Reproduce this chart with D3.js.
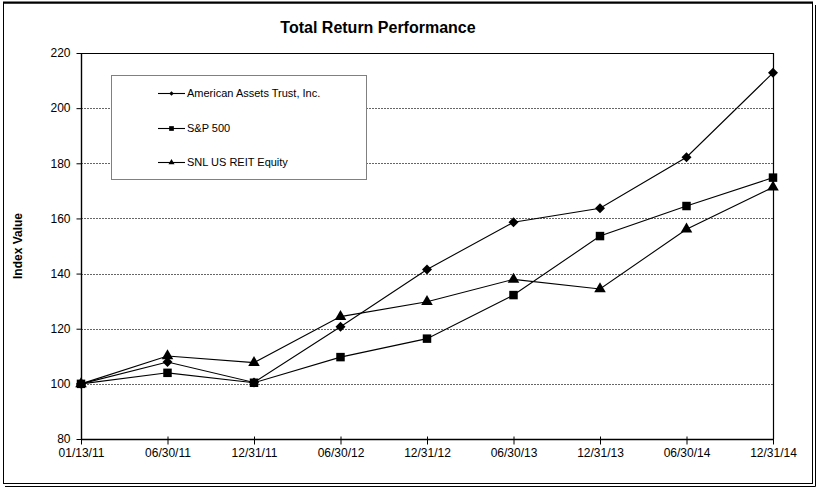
<!DOCTYPE html>
<html>
<head>
<meta charset="utf-8">
<script src="https://cdn.jsdelivr.net/npm/d3@7"></script>
<style>
  html, body { margin: 0; padding: 0; background: #fff; }
  svg { display: block; font-family: "Liberation Sans", Arial, sans-serif; }
</style>
</head>
<body>
<svg id="chart" width="819" height="488"></svg>
<script>
const dates = ["01/13/11","06/30/11","12/31/11","06/30/12","12/31/12","06/30/13","12/31/13","06/30/14","12/31/14"];
const aat   = [100, 107.9, 100.5, 120.7, 141.5, 158.6, 163.7, 182.2, 212.8];
const sp500 = [100, 104.0, 100.4, 109.7, 116.4, 132.2, 153.6, 164.5, 174.8];
const reit  = [100, 110.1, 107.7, 124.4, 129.8, 137.9, 134.4, 156.1, 171.3];
const seriesNames = ["American Assets Trust, Inc.", "S&P 500", "SNL US REIT Equity"];
const yTicks = [80, 100, 120, 140, 160, 180, 200, 220];

const series = [
  {name: seriesNames[0], values: aat, symbol: d3.symbolSquare, size: 50, rot: 45, legSize: 10},
  {name: seriesNames[1], values: sp500, symbol: d3.symbolSquare, size: 72, rot: 0, legSize: 22},
  {name: seriesNames[2], values: reit, symbol: d3.symbolTriangle, size: 58, rot: 0, legSize: 16}
];

const svg = d3.select("#chart");
const m = {left: 81, right: 773, top: 53, bottom: 439};

// frame with shadow
svg.append("path").attr("d", `M815.5,5 V486.5 H5`).attr("fill","none").attr("stroke","#000").attr("stroke-width",1);
svg.append("rect").attr("x",3.5).attr("y",3).attr("width",809).attr("height",480.5)
  .attr("fill","#fff").attr("stroke","#000").attr("stroke-width",1);
svg.append("line").attr("x1",3).attr("x2",813).attr("y1",2.5).attr("y2",2.5).attr("stroke","#000").attr("stroke-width",2);

const x = d3.scalePoint().domain(dates).range([m.left, m.right]);
const y = d3.scaleLinear().domain([80, 220]).range([m.bottom, m.top]);

// gridlines
svg.append("g").selectAll("line").data(yTicks.filter(t => t > 80 && t < 220)).join("line")
  .attr("x1", m.left).attr("x2", m.right)
  .attr("y1", d => Math.round(y(d)) + 0.5).attr("y2", d => Math.round(y(d)) + 0.5)
  .attr("stroke", "#666").attr("stroke-width", 1).attr("stroke-dasharray", "2,1");

// plot border (top & right)
svg.append("path")
  .attr("d", `M${m.left},${m.top+0.5} H${m.right+0.5} V${m.bottom}`)
  .attr("fill","none").attr("stroke","#000").attr("stroke-width",1.2);

// axes
const yAxis = svg.append("g").attr("transform", `translate(${m.left+0.5},0)`)
  .call(d3.axisLeft(y).tickValues(yTicks).tickSize(5).tickPadding(6));
const xAxis = svg.append("g").attr("transform", `translate(0,${m.bottom+0.5})`)
  .call(d3.axisBottom(x).tickSize(5).tickPadding(4));
[yAxis, xAxis].forEach(g => {
  g.select(".domain").attr("stroke","#000").attr("stroke-width",1.4);
  g.selectAll(".tick line").attr("stroke","#000");
  g.selectAll("text").attr("fill","#000").style("font-size","12px").style("font-family","'Liberation Sans', Arial, sans-serif");
});
yAxis.select(".domain").attr("d", `M-0,${m.top}V${m.bottom+0.5}`);
xAxis.select(".domain").attr("d", `M${m.left},0H${m.right+0.5}`);
xAxis.selectAll(".tick line").attr("y1", -3);

// lines
const line = d3.line().x((d,i) => x(dates[i])).y(d => y(d));
series.forEach(s => {
  svg.append("path").datum(s.values).attr("d", line)
    .attr("fill","none").attr("stroke","#000").attr("stroke-width",1.1);
});
series.forEach(s => {
  svg.append("g").selectAll("path").data(s.values).join("path")
    .attr("transform", (d,i) => `translate(${x(dates[i])},${y(d)}) rotate(${s.rot})`)
    .attr("d", d3.symbol().type(s.symbol).size(s.size))
    .attr("fill","#000");
});

// title
svg.append("text").attr("x", 378).attr("y", 33).attr("text-anchor","middle")
  .style("font-size","16px").style("font-weight","bold").text("Total Return Performance");

// y label
svg.append("text").attr("transform", "translate(22,246) rotate(-90)").attr("text-anchor","middle")
  .style("font-size","12px").style("font-weight","bold").text("Index Value");

// legend
const lg = svg.append("g");
lg.append("rect").attr("x",111.5).attr("y",75.5).attr("width",255).attr("height",104)
  .attr("fill","#fff").attr("stroke","#808080").attr("stroke-width",1);
const legY = [93, 128, 162];
series.forEach((s, i) => {
  lg.append("line").attr("x1",158).attr("x2",185).attr("y1",legY[i]+0.5).attr("y2",legY[i]+0.5)
    .attr("stroke","#000").attr("stroke-width",1.1);
  lg.append("path").attr("transform", `translate(171.5,${legY[i]+0.5}) rotate(${s.rot})`)
    .attr("d", d3.symbol().type(s.symbol).size(s.legSize)).attr("fill","#000");
  lg.append("text").attr("x",187).attr("y",legY[i]+4).style("font-size","11px").text(s.name);
});
</script>
</body>
</html>
